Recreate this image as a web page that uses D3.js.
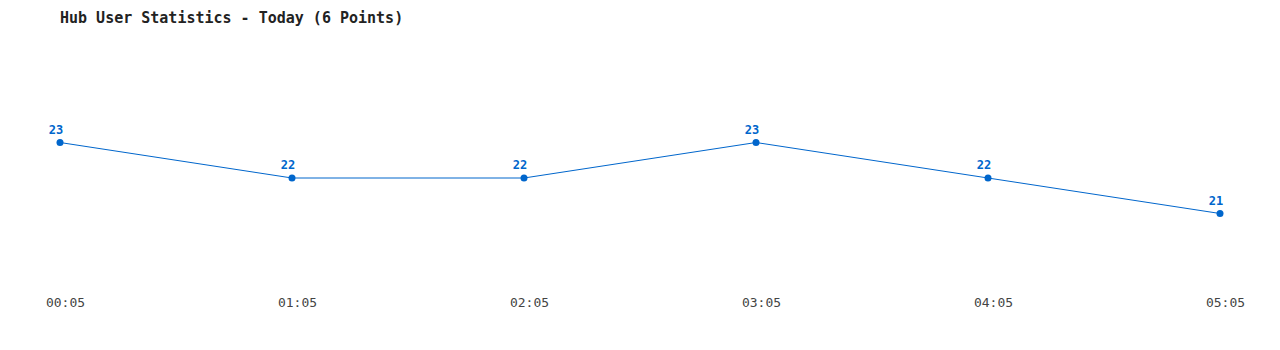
<!DOCTYPE html>
<html><head><meta charset="utf-8">
<script src="https://cdn.jsdelivr.net/npm/d3@7"></script>
<style>body{margin:0;background:#fff;}svg{display:block;}</style>
</head><body>
<svg id="c" width="1280" height="350"></svg>
<script>
const title = "Hub User Statistics - Today (6 Points)";
const times = ["00:05","01:05","02:05","03:05","04:05","05:05"];
const users = [23,22,22,23,22,21];

const svg = d3.select("#c");
const color = "#0066cc";
const x = d3.scalePoint().domain(times).range([60,1220]);
const y = d3.scaleLinear().domain([21,23]).range([213.5,142.5]);

svg.append("text").attr("x",60).attr("y",23)
  .attr("font-family","DejaVu Sans Mono, monospace").attr("font-size",15).attr("font-weight","bold")
  .attr("fill","#222").text(title);

const data = times.map((t,i)=>({t,v:users[i]}));
svg.append("path").datum(data)
  .attr("fill","none").attr("stroke",color).attr("stroke-width",1)
  .attr("d", d3.line().x(d=>x(d.t)).y(d=>y(d.v)));

svg.selectAll("circle.p").data(data).join("circle")
  .attr("cx",d=>x(d.t)).attr("cy",d=>y(d.v)).attr("r",3.5).attr("fill",color);

svg.selectAll("text.v").data(data).join("text").attr("class","v")
  .attr("x",d=>x(d.t)-4).attr("y",d=>y(d.v)-9)
  .attr("text-anchor","middle")
  .attr("font-family","DejaVu Sans Mono, monospace").attr("font-size",12).attr("font-weight","bold")
  .attr("fill",color).text(d=>d.v);

const axis = d3.axisBottom(x).tickSize(0).tickPadding(0);
const g = svg.append("g").attr("transform","translate(5,298)").call(axis);
g.select(".domain").remove();
g.selectAll("text").attr("font-family","DejaVu Sans Mono, monospace").attr("font-size",13).attr("fill","#444");
</script>
</body></html>
